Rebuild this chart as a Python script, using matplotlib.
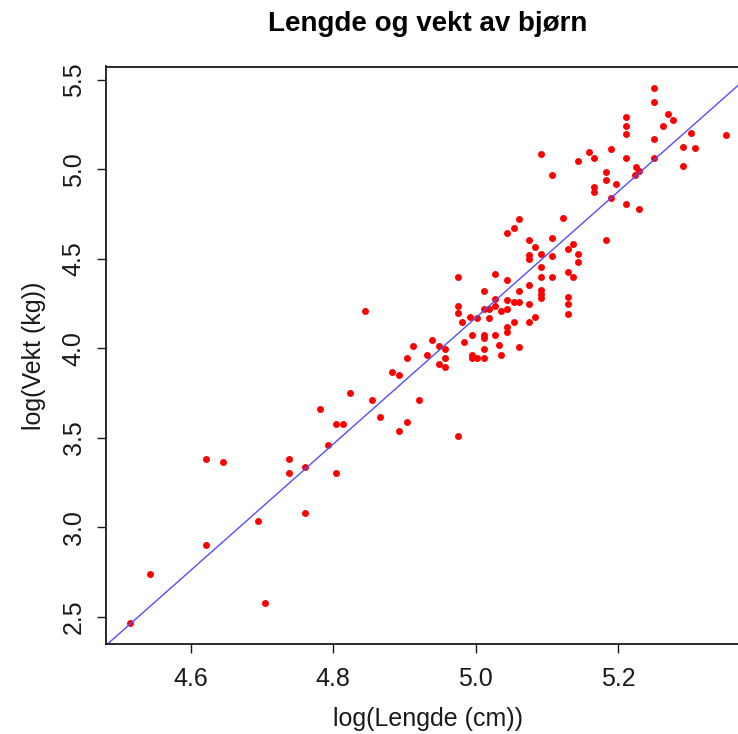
import matplotlib
matplotlib.use("Agg")
import matplotlib.pyplot as plt
import numpy as np

# log(length) and log(weight)
log_lengde = [
    4.515, 4.543, 4.621, 4.646, 4.621, 4.694, 4.705, 4.738, 4.738, 4.761,
    4.761, 4.782, 4.793, 4.804, 4.804, 4.844, 4.814, 4.824, 4.855, 4.865,
    4.893, 4.903, 4.921, 4.883, 4.893, 4.903, 4.912, 4.931, 4.939, 4.949,
    4.949, 4.975, 4.975, 4.975, 4.975, 4.981, 4.992, 5.002, 5.011, 5.011,
    5.018, 5.027, 5.027, 5.027, 5.019, 5.036, 5.044, 5.044, 5.044, 5.053,
    5.060, 5.060, 5.053, 5.044, 5.044, 4.994, 4.984, 5.011, 5.011, 5.027,
    5.032, 5.036, 5.011, 4.994, 4.994, 5.002, 5.011, 5.060, 4.957, 4.957,
    4.957, 5.075, 5.075, 5.075, 5.083, 5.092, 5.092, 5.092, 5.092, 5.092,
    5.075, 5.075, 5.083, 5.092, 5.075, 5.107, 5.107, 5.107, 5.044, 5.053,
    5.060, 5.123, 5.137, 5.130, 5.144, 5.144, 5.130, 5.137, 5.130, 5.130,
    5.130, 5.092, 5.107, 5.144, 5.250, 5.250, 5.270, 5.277, 5.263, 5.210,
    5.210, 5.210, 5.250, 5.302, 5.351, 5.290, 5.308, 5.290, 5.250, 5.210,
    5.189, 5.159, 5.166, 5.224, 5.223, 5.229, 5.182, 5.182, 5.196, 5.166,
    5.166, 5.189, 5.210, 5.229, 5.182,
]
log_vekt = [
    2.465, 2.739, 3.381, 3.364, 2.901, 3.035, 2.577, 3.381, 3.303, 3.336,
    3.079, 3.660, 3.459, 3.577, 3.303, 4.208, 3.577, 3.750, 3.711, 3.616,
    3.537, 3.588, 3.711, 3.867, 3.850, 3.945, 4.012, 3.962, 4.046, 4.012,
    3.912, 3.509, 4.398, 4.236, 4.197, 4.146, 4.174, 4.169, 4.320, 4.219,
    4.219, 4.415, 4.275, 4.236, 4.169, 4.208, 4.381, 4.269, 4.219, 4.258,
    4.258, 4.320, 4.146, 4.118, 4.091, 4.074, 4.035, 4.074, 4.057, 4.074,
    4.018, 3.962, 3.996, 3.962, 3.945, 3.945, 3.945, 4.007, 3.996, 3.945,
    3.895, 4.353, 4.247, 4.146, 4.174, 4.398, 4.325, 4.303, 4.280, 4.454,
    4.521, 4.498, 4.565, 4.526, 4.604, 4.616, 4.515, 4.398, 4.644, 4.672,
    4.722, 4.727, 4.582, 4.554, 4.526, 4.482, 4.426, 4.398, 4.286, 4.247,
    4.191, 5.085, 4.968, 5.046, 5.454, 5.375, 5.308, 5.275, 5.241, 5.292,
    5.241, 5.197, 5.169, 5.202, 5.191, 5.124, 5.118, 5.018, 5.063, 5.063,
    5.113, 5.096, 5.063, 5.012, 4.968, 4.990, 4.984, 4.940, 4.917, 4.901,
    4.873, 4.839, 4.806, 4.778, 4.604,
]

# fitted line
intercept = -13.48
slope = 3.53

x_ticks = [4.6, 4.8, 5.0, 5.2]
y_ticks = [2.5, 3.0, 3.5, 4.0, 4.5, 5.0, 5.5]

plt.rcParams['font.family'] = ['Liberation Sans', 'DejaVu Sans']

W, H = 738, 734
fig = plt.figure(figsize=(W / 100, H / 100), dpi=100)
ax = fig.add_axes([105.7 / W, 89.6 / H, 643.9 / W, 577.9 / H])

x = np.array(log_lengde)
y = np.array(log_vekt)
ax.plot(x, y, 'o', color='red', markersize=5, markeredgewidth=0)
ax.axline((0, intercept), slope=slope, color='#5050ff', lw=1)

ax.set_xlim(4.481, 5.384)
ax.set_ylim(2.345, 5.574)
ax.set_xticks(x_ticks)
ax.set_xticklabels([f"{v:.1f}" for v in x_ticks])
ax.set_yticks(y_ticks)
ax.set_yticklabels([f"{v:.1f}" for v in y_ticks])

for s in ax.spines.values():
    s.set_linewidth(1.3)
    s.set_color('#1a1a1a')

ax.tick_params(axis='both', direction='out', length=6.5, width=1, color='#1a1a1a',
               labelsize=18, labelcolor='#1a1a1a')
ax.tick_params(axis='x', pad=10)
ax.tick_params(axis='y', pad=8, labelrotation=90)
for lab in ax.get_yticklabels():
    lab.set_va('center')

ax.set_xlabel('log(Lengde (cm))', fontsize=18, labelpad=11, color='#1a1a1a')
ax.set_ylabel('log(Vekt (kg))', fontsize=18, labelpad=11, color='#1a1a1a')

fig.text(427.7 / W, 1 - 31 / H, 'Lengde og vekt av bjørn', ha='center', va='baseline',
         fontsize=20, fontweight='bold')

fig.savefig('out.png', dpi=100)
